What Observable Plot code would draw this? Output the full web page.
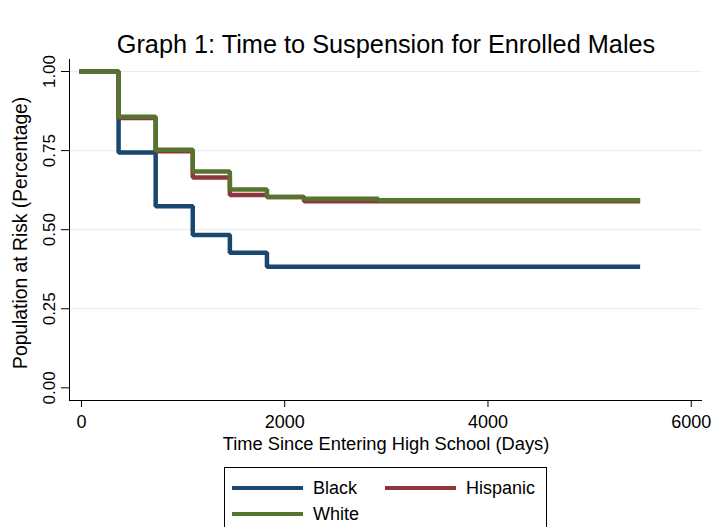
<!DOCTYPE html>
<html>
<head>
<meta charset="utf-8">
<script src="https://cdn.jsdelivr.net/npm/d3@7"></script>
<script src="https://cdn.jsdelivr.net/npm/@observablehq/plot@0.6"></script>
<style>
  body { margin: 0; background: #fff; }
  #chart { position: relative; width: 713px; height: 527px; overflow: hidden;
           font-family: "Liberation Sans", Arial, Helvetica, sans-serif; color: #000; }
  #title { position: absolute; left: 0; width: 772px; top: 32px; text-align: center;
           font-size: 25.3px; line-height: 25px; white-space: nowrap; }
  #plot { position: absolute; left: 0; top: 0; }
  #legend { position: absolute; left: 224px; top: 467px; width: 321px; height: 80px;
            border: 1px solid #000; background: #fff; }
  .item { position: absolute; font-size: 18px; line-height: 18px; white-space: nowrap; }
  .swatch { position: absolute; width: 71px; height: 4px; }
</style>
</head>
<body>
<div id="chart">
  <div id="plot"></div>
  <div id="title">Graph 1: Time to Suspension for Enrolled Males</div>
  <div id="legend"></div>
</div>
<script>
// Kaplan–Meier survival estimates, one value per year of enrollment (days)
const days = [0, 365, 730, 1095, 1460, 1825, 2190, 2555, 2920, 3285, 3650, 4015, 4380, 4745, 5110, 5475];
const black    = [1, 0.744, 0.574, 0.483, 0.427, 0.383, 0.383, 0.383, 0.383, 0.383, 0.383, 0.383, 0.383, 0.383, 0.383, 0.383];
const hispanic = [1, 0.853, 0.748, 0.665, 0.610, 0.603, 0.590, 0.590, 0.590, 0.590, 0.590, 0.590, 0.590, 0.590, 0.590, 0.590];
const white    = [1, 0.857, 0.753, 0.684, 0.627, 0.603, 0.598, 0.598, 0.593, 0.593, 0.593, 0.593, 0.593, 0.593, 0.593, 0.593];

const groups = ["Black", "Hispanic", "White"];
const colors = ["#1a476f", "#90353b", "#55752f"];
const xTicks = [0, 2000, 4000, 6000];
const yTicks = [0, 0.25, 0.5, 0.75, 1];

const xDomain = [-118, 6111];
const yDomain = [-0.040, 1.038];

// long-format table: one row per (group, day)
const series = [black, hispanic, white];
const rows = groups.flatMap((g, i) => days.map((d, j) => ({group: g, day: d, value: series[i][j]})));

const fmt = d3.format(".2f");

const chart = Plot.plot({
  width: 713,
  height: 460,
  marginLeft: 69,
  marginRight: 11,
  marginTop: 59,
  marginBottom: 60,
  style: {fontFamily: '"Liberation Sans", Arial, Helvetica, sans-serif', background: "transparent", color: "#000"},
  x: {type: "linear", domain: xDomain, axis: null},
  y: {type: "linear", domain: yDomain, axis: null},
  color: {domain: groups, range: colors},
  marks: [
    // horizontal grid
    Plot.ruleY(yTicks.filter(d => d > 0), {stroke: "#e6eef1", strokeWidth: 1.2}),
    // axis lines
    Plot.ruleX([xDomain[0]], {stroke: "#000", strokeWidth: 1}),
    Plot.ruleY([yDomain[0]], {stroke: "#000", strokeWidth: 1}),
    // x axis ticks and labels
    Plot.axisX(xTicks, {anchor: "bottom", tickSize: 7, tickPadding: 8, fontSize: 18, tickFormat: d3.format("d"), label: null, stroke: "#000"}),
    Plot.text(["Time Since Entering High School (Days)"], {frameAnchor: "bottom", dy: 49, fontSize: 18.3, fill: "#000"}),
    // y axis ticks and rotated labels
    Plot.axisY(yTicks, {anchor: "left", tickSize: 8, tickFormat: () => "", label: null, stroke: "#000"}),
    Plot.text(yTicks, {y: d => d, text: d => fmt(d), frameAnchor: "left", textAnchor: "middle", dx: -19.5, rotate: -90, fontSize: 17, fill: "#000"}),
    Plot.text(["Population at Risk (Percentage)"], {y: 0.49, frameAnchor: "left", textAnchor: "middle", dx: -49, rotate: -90, fontSize: 19.3, fill: "#000"}),
    // survival step curves
    Plot.line(rows, {x: "day", y: "value", z: "group", stroke: "group", curve: "step-after",
                     strokeWidth: 4.5, strokeLinecap: "square", strokeLinejoin: "miter"})
  ]
});
document.getElementById("plot").appendChild(chart);

// legend: two columns, row-major
const legend = document.getElementById("legend");
const pos = [{lx: 7, ly: 18, tx: 88, ty: 11}, {lx: 160, ly: 18, tx: 241, ty: 11}, {lx: 7, ly: 44, tx: 88, ty: 37}];
groups.forEach((g, i) => {
  const sw = document.createElement("div");
  sw.className = "swatch";
  sw.style.left = pos[i].lx + "px";
  sw.style.top = pos[i].ly + "px";
  sw.style.background = colors[i];
  legend.appendChild(sw);
  const t = document.createElement("div");
  t.className = "item";
  t.style.left = pos[i].tx + "px";
  t.style.top = pos[i].ty + "px";
  t.textContent = g;
  legend.appendChild(t);
});
</script>
</body>
</html>
